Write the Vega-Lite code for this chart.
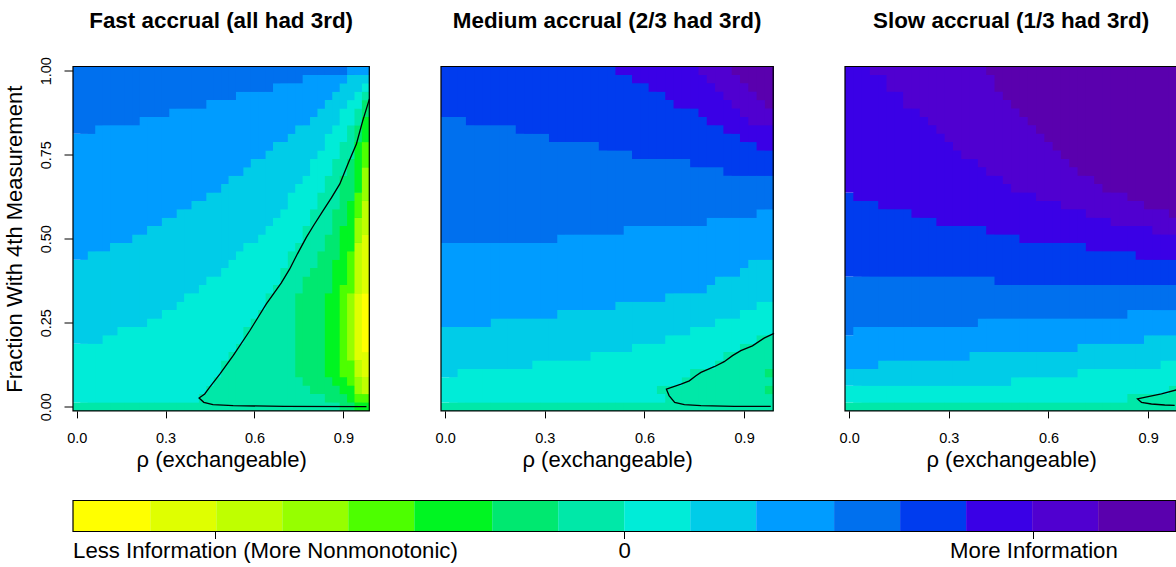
{
"$schema": "https://vega.github.io/schema/vega-lite/v6.json",
"padding": {"left": 3, "top": 9.5, "right": 0, "bottom": 0},
"config": {"font": "Liberation Sans", "view": {"stroke": null},
  "axis": {"labelColor": "black", "titleColor": "black", "tickColor": "black", "titleFontWeight": "normal", "grid": false, "domain": false},
  "title": {"color": "black", "fontSize": 22.4, "fontWeight": "bold"}},
"datasets": {
"cells": [
{"p":"A","r":0,"f":[0,0.025,0.2,0.45,0.825],"h":[0.025,0.2,0.45,0.825,1.025],"l":[8,9,10,11,12]},
{"p":"A","r":0.025,"f":[0,0.025,0.2,0.45,0.825],"h":[0.025,0.2,0.45,0.825,1.025],"l":[8,9,10,11,12]},
{"p":"A","r":0.05,"f":[0,0.025,0.2,0.475,0.825],"h":[0.025,0.2,0.475,0.825,1.025],"l":[8,9,10,11,12]},
{"p":"A","r":0.075,"f":[0,0.025,0.2,0.475,0.85],"h":[0.025,0.2,0.475,0.85,1.025],"l":[8,9,10,11,12]},
{"p":"A","r":0.1,"f":[0,0.025,0.225,0.475,0.85],"h":[0.025,0.225,0.475,0.85,1.025],"l":[8,9,10,11,12]},
{"p":"A","r":0.125,"f":[0,0.025,0.225,0.5,0.85],"h":[0.025,0.225,0.5,0.85,1.025],"l":[8,9,10,11,12]},
{"p":"A","r":0.15,"f":[0,0.025,0.25,0.5,0.85],"h":[0.025,0.25,0.5,0.85,1.025],"l":[8,9,10,11,12]},
{"p":"A","r":0.175,"f":[0,0.025,0.25,0.5,0.85],"h":[0.025,0.25,0.5,0.85,1.025],"l":[8,9,10,11,12]},
{"p":"A","r":0.2,"f":[0,0.025,0.25,0.525,0.85],"h":[0.025,0.25,0.525,0.85,1.025],"l":[8,9,10,11,12]},
{"p":"A","r":0.225,"f":[0,0.025,0.25,0.525,0.875],"h":[0.025,0.25,0.525,0.875,1.025],"l":[8,9,10,11,12]},
{"p":"A","r":0.25,"f":[0,0.025,0.275,0.55,0.875],"h":[0.025,0.275,0.55,0.875,1.025],"l":[8,9,10,11,12]},
{"p":"A","r":0.275,"f":[0,0.025,0.275,0.55,0.875],"h":[0.025,0.275,0.55,0.875,1.025],"l":[8,9,10,11,12]},
{"p":"A","r":0.3,"f":[0,0.025,0.3,0.575,0.875],"h":[0.025,0.3,0.575,0.875,1.025],"l":[8,9,10,11,12]},
{"p":"A","r":0.325,"f":[0,0.025,0.3,0.575,0.9],"h":[0.025,0.3,0.575,0.9,1.025],"l":[8,9,10,11,12]},
{"p":"A","r":0.35,"f":[0,0.025,0.325,0.6,0.9],"h":[0.025,0.325,0.6,0.9,1.025],"l":[8,9,10,11,12]},
{"p":"A","r":0.375,"f":[0,0.025,0.35,0.6,0.9],"h":[0.025,0.35,0.6,0.9,1.025],"l":[8,9,10,11,12]},
{"p":"A","r":0.4,"f":[0,0.025,0.35,0.625,0.9],"h":[0.025,0.35,0.625,0.9,1.025],"l":[8,9,10,11,12]},
{"p":"A","r":0.425,"f":[0,0.05,0.375,0.625,0.9],"h":[0.05,0.375,0.625,0.9,1.025],"l":[8,9,10,11,12]},
{"p":"A","r":0.45,"f":[0,0.075,0.4,0.65,0.925],"h":[0.075,0.4,0.65,0.925,1.025],"l":[8,9,10,11,12]},
{"p":"A","r":0.475,"f":[0,0.1,0.4,0.65,0.925],"h":[0.1,0.4,0.65,0.925,1.025],"l":[8,9,10,11,12]},
{"p":"A","r":0.5,"f":[0,0.15,0.425,0.675,0.925],"h":[0.15,0.425,0.675,0.925,1.025],"l":[8,9,10,11,12]},
{"p":"A","r":0.525,"f":[0,0.175,0.45,0.7,0.925],"h":[0.175,0.45,0.7,0.925,1.025],"l":[8,9,10,11,12]},
{"p":"A","r":0.55,"f":[0,0.2,0.475,0.7,0.95],"h":[0.2,0.475,0.7,0.95,1.025],"l":[8,9,10,11,12]},
{"p":"A","r":0.575,"f":[0,0.25,0.5,0.725,0.95],"h":[0.25,0.5,0.725,0.95,1.025],"l":[8,9,10,11,12]},
{"p":"A","r":0.6,"f":[0,0.275,0.5,0.75,0.95],"h":[0.275,0.5,0.75,0.95,1.025],"l":[8,9,10,11,12]},
{"p":"A","r":0.625,"f":[0,0.3,0.525,0.75,0.95],"h":[0.3,0.525,0.75,0.95,1.025],"l":[8,9,10,11,12]},
{"p":"A","r":0.65,"f":[0,0.35,0.55,0.775,0.95],"h":[0.35,0.55,0.775,0.95,1.025],"l":[8,9,10,11,12]},
{"p":"A","r":0.675,"f":[0,0.375,0.575,0.8,0.975],"h":[0.375,0.575,0.8,0.975,1.025],"l":[8,9,10,11,12]},
{"p":"A","r":0.7,"f":[0,0.425,0.6,0.8,0.975],"h":[0.425,0.6,0.8,0.975,1.025],"l":[8,9,10,11,12]},
{"p":"A","r":0.725,"f":[0,0.475,0.65,0.825,0.975],"h":[0.475,0.65,0.825,0.975,1.025],"l":[8,9,10,11,12]},
{"p":"A","r":0.75,"f":[0,0.1,0.35,0.5,0.675,0.85,0.975],"h":[0.1,0.35,0.5,0.675,0.85,0.975,1.025],"l":[8,7,8,9,10,11,12]},
{"p":"A","r":0.775,"f":[0,0.075,0.4,0.55,0.7,0.85,1],"h":[0.075,0.4,0.55,0.7,0.85,1,1.025],"l":[8,7,8,9,10,11,12]},
{"p":"A","r":0.8,"f":[0,0.05,0.425,0.6,0.75,0.875,1],"h":[0.05,0.425,0.6,0.75,0.875,1,1.025],"l":[8,7,8,9,10,11,12]},
{"p":"A","r":0.825,"f":[0,0.05,0.475,0.65,0.775,0.9,1],"h":[0.05,0.475,0.65,0.775,0.9,1,1.025],"l":[8,7,8,9,10,11,12]},
{"p":"A","r":0.85,"f":[0,0.025,0.1,0.35,0.525,0.7,0.825,0.925,1],"h":[0.025,0.1,0.35,0.525,0.7,0.825,0.925,1,1.025],"l":[8,7,6,7,8,9,10,11,12]},
{"p":"A","r":0.875,"f":[0,0.025,0.075,0.45,0.6,0.75,0.85,0.95,1],"h":[0.025,0.075,0.45,0.6,0.75,0.85,0.95,1,1.025],"l":[8,7,6,7,8,9,10,11,12]},
{"p":"A","r":0.9,"f":[0,0.05,0.1,0.375,0.55,0.7,0.8,0.9,0.975,1],"h":[0.05,0.1,0.375,0.55,0.7,0.8,0.9,0.975,1,1.025],"l":[7,6,5,6,7,8,9,10,11,12]},
{"p":"A","r":0.925,"f":[0,0.025,0.075,0.15,0.35,0.475,0.625,0.75,0.85,0.925,1],"h":[0.025,0.075,0.15,0.35,0.475,0.625,0.75,0.85,0.925,1,1.025],"l":[7,6,5,4,5,6,7,8,9,10,11]},
{"p":"A","r":0.95,"f":[0,0.025,0.05,0.1,0.15,0.35,0.5,0.575,0.65,0.8,0.85,0.9,0.95,1],"h":[0.025,0.05,0.1,0.15,0.35,0.5,0.575,0.65,0.8,0.85,0.9,0.95,1,1.025],"l":[6,5,4,3,2,3,4,5,6,7,8,9,10,11]},
{"p":"A","r":0.975,"f":[0,0.025,0.05,0.1,0.175,0.35,0.525,0.625,0.725,0.8,0.875,0.925,0.95,0.975,1],"h":[0.025,0.05,0.1,0.175,0.35,0.525,0.625,0.725,0.8,0.875,0.925,0.95,0.975,1,1.025],"l":[6,5,3,2,1,2,3,4,5,6,7,8,9,10,11]},
{"p":"B","r":0,"f":[0,0.025,0.1,0.25,0.5,0.875],"h":[0.025,0.1,0.25,0.5,0.875,1.025],"l":[8,9,10,11,12,13]},
{"p":"B","r":0.025,"f":[0,0.025,0.1,0.25,0.5,0.875],"h":[0.025,0.1,0.25,0.5,0.875,1.025],"l":[8,9,10,11,12,13]},
{"p":"B","r":0.05,"f":[0,0.025,0.125,0.25,0.5,0.875],"h":[0.025,0.125,0.25,0.5,0.875,1.025],"l":[8,9,10,11,12,13]},
{"p":"B","r":0.075,"f":[0,0.025,0.125,0.25,0.5,0.85],"h":[0.025,0.125,0.25,0.5,0.85,1.025],"l":[8,9,10,11,12,13]},
{"p":"B","r":0.1,"f":[0,0.025,0.125,0.25,0.5,0.85],"h":[0.025,0.125,0.25,0.5,0.85,1.025],"l":[8,9,10,11,12,13]},
{"p":"B","r":0.125,"f":[0,0.025,0.125,0.25,0.5,0.85],"h":[0.025,0.125,0.25,0.5,0.85,1.025],"l":[8,9,10,11,12,13]},
{"p":"B","r":0.15,"f":[0,0.025,0.125,0.275,0.5,0.85],"h":[0.025,0.125,0.275,0.5,0.85,1.025],"l":[8,9,10,11,12,13]},
{"p":"B","r":0.175,"f":[0,0.025,0.125,0.275,0.5,0.85],"h":[0.025,0.125,0.275,0.5,0.85,1.025],"l":[8,9,10,11,12,13]},
{"p":"B","r":0.2,"f":[0,0.025,0.125,0.275,0.5,0.85],"h":[0.025,0.125,0.275,0.5,0.85,1.025],"l":[8,9,10,11,12,13]},
{"p":"B","r":0.225,"f":[0,0.025,0.125,0.275,0.5,0.825],"h":[0.025,0.125,0.275,0.5,0.825,1.025],"l":[8,9,10,11,12,13]},
{"p":"B","r":0.25,"f":[0,0.025,0.125,0.275,0.5,0.825],"h":[0.025,0.125,0.275,0.5,0.825,1.025],"l":[8,9,10,11,12,13]},
{"p":"B","r":0.275,"f":[0,0.025,0.15,0.275,0.5,0.825],"h":[0.025,0.15,0.275,0.5,0.825,1.025],"l":[8,9,10,11,12,13]},
{"p":"B","r":0.3,"f":[0,0.025,0.15,0.275,0.5,0.825],"h":[0.025,0.15,0.275,0.5,0.825,1.025],"l":[8,9,10,11,12,13]},
{"p":"B","r":0.325,"f":[0,0.025,0.15,0.275,0.5,0.8],"h":[0.025,0.15,0.275,0.5,0.8,1.025],"l":[8,9,10,11,12,13]},
{"p":"B","r":0.35,"f":[0,0.025,0.15,0.3,0.525,0.8],"h":[0.025,0.15,0.3,0.525,0.8,1.025],"l":[8,9,10,11,12,13]},
{"p":"B","r":0.375,"f":[0,0.025,0.15,0.3,0.525,0.8],"h":[0.025,0.15,0.3,0.525,0.8,1.025],"l":[8,9,10,11,12,13]},
{"p":"B","r":0.4,"f":[0,0.025,0.15,0.3,0.525,0.8],"h":[0.025,0.15,0.3,0.525,0.8,1.025],"l":[8,9,10,11,12,13]},
{"p":"B","r":0.425,"f":[0,0.025,0.15,0.3,0.525,0.8],"h":[0.025,0.15,0.3,0.525,0.8,1.025],"l":[8,9,10,11,12,13]},
{"p":"B","r":0.45,"f":[0,0.025,0.175,0.3,0.525,0.8],"h":[0.025,0.175,0.3,0.525,0.8,1.025],"l":[8,9,10,11,12,13]},
{"p":"B","r":0.475,"f":[0,0.025,0.175,0.3,0.525,0.775],"h":[0.025,0.175,0.3,0.525,0.775,1.025],"l":[8,9,10,11,12,13]},
{"p":"B","r":0.5,"f":[0,0.025,0.175,0.3,0.525,0.775],"h":[0.025,0.175,0.3,0.525,0.775,1.025],"l":[8,9,10,11,12,13]},
{"p":"B","r":0.525,"f":[0,0.025,0.175,0.325,0.525,0.775,1],"h":[0.025,0.175,0.325,0.525,0.775,1,1.025],"l":[8,9,10,11,12,13,14]},
{"p":"B","r":0.55,"f":[0,0.025,0.175,0.325,0.55,0.775,1],"h":[0.025,0.175,0.325,0.55,0.775,1,1.025],"l":[8,9,10,11,12,13,14]},
{"p":"B","r":0.575,"f":[0,0.025,0.2,0.325,0.55,0.75,0.975],"h":[0.025,0.2,0.325,0.55,0.75,0.975,1.025],"l":[8,9,10,11,12,13,14]},
{"p":"B","r":0.6,"f":[0,0.025,0.2,0.325,0.55,0.75,0.975],"h":[0.025,0.2,0.325,0.55,0.75,0.975,1.025],"l":[8,9,10,11,12,13,14]},
{"p":"B","r":0.625,"f":[0,0.025,0.2,0.325,0.55,0.75,0.95],"h":[0.025,0.2,0.325,0.55,0.75,0.95,1.025],"l":[8,9,10,11,12,13,14]},
{"p":"B","r":0.65,"f":[0,0.025,0.05,0.075,0.2,0.325,0.55,0.75,0.95],"h":[0.025,0.05,0.075,0.2,0.325,0.55,0.75,0.95,1.025],"l":[8,9,8,9,10,11,12,13,14]},
{"p":"B","r":0.675,"f":[0,0.075,0.225,0.35,0.55,0.75,0.925],"h":[0.075,0.225,0.35,0.55,0.75,0.925,1.025],"l":[8,9,10,11,12,13,14]},
{"p":"B","r":0.7,"f":[0,0.075,0.225,0.35,0.55,0.75,0.9],"h":[0.075,0.225,0.35,0.55,0.75,0.9,1.025],"l":[8,9,10,11,12,13,14]},
{"p":"B","r":0.725,"f":[0,0.1,0.225,0.35,0.55,0.75,0.9],"h":[0.1,0.225,0.35,0.55,0.75,0.9,1.025],"l":[8,9,10,11,12,13,14]},
{"p":"B","r":0.75,"f":[0,0.125,0.25,0.35,0.55,0.725,0.9],"h":[0.125,0.25,0.35,0.55,0.725,0.9,1.025],"l":[8,9,10,11,12,13,14]},
{"p":"B","r":0.775,"f":[0,0.125,0.25,0.35,0.55,0.725,0.875,1],"h":[0.125,0.25,0.35,0.55,0.725,0.875,1,1.025],"l":[8,9,10,11,12,13,14,15]},
{"p":"B","r":0.8,"f":[0,0.125,0.25,0.375,0.575,0.725,0.85,0.975],"h":[0.125,0.25,0.375,0.575,0.725,0.85,0.975,1.025],"l":[8,9,10,11,12,13,14,15]},
{"p":"B","r":0.825,"f":[0,0.15,0.275,0.4,0.575,0.725,0.85,0.95],"h":[0.15,0.275,0.4,0.575,0.725,0.85,0.95,1.025],"l":[8,9,10,11,12,13,14,15]},
{"p":"B","r":0.85,"f":[0,0.175,0.275,0.4,0.575,0.7,0.825,0.925],"h":[0.175,0.275,0.4,0.575,0.7,0.825,0.925,1.025],"l":[8,9,10,11,12,13,14,15]},
{"p":"B","r":0.875,"f":[0,0.175,0.275,0.4,0.575,0.7,0.825,0.9,1],"h":[0.175,0.275,0.4,0.575,0.7,0.825,0.9,1,1.025],"l":[8,9,10,11,12,13,14,15,16]},
{"p":"B","r":0.9,"f":[0,0.2,0.3,0.425,0.575,0.7,0.8,0.875,0.975],"h":[0.2,0.3,0.425,0.575,0.7,0.8,0.875,0.975,1.025],"l":[8,9,10,11,12,13,14,15,16]},
{"p":"B","r":0.925,"f":[0,0.2,0.3,0.45,0.575,0.7,0.8,0.85,0.95],"h":[0.2,0.3,0.45,0.575,0.7,0.8,0.85,0.95,1.025],"l":[8,9,10,11,12,13,14,15,16]},
{"p":"B","r":0.95,"f":[0,0.225,0.325,0.45,0.6,0.7,0.775,0.85,0.925],"h":[0.225,0.325,0.45,0.6,0.7,0.775,0.85,0.925,1.025],"l":[8,9,10,11,12,13,14,15,16]},
{"p":"B","r":0.975,"f":[0,0.05,0.075,0.1,0.125,0.225,0.325,0.45,0.6,0.7,0.775,0.85,0.9],"h":[0.05,0.075,0.1,0.125,0.225,0.325,0.45,0.6,0.7,0.775,0.85,0.9,1.025],"l":[8,7,8,7,8,9,10,11,12,13,14,15,16]},
{"p":"C","r":0,"f":[0,0.025,0.075,0.125,0.225,0.4,0.65],"h":[0.025,0.075,0.125,0.225,0.4,0.65,1.025],"l":[8,9,10,11,12,13,14]},
{"p":"C","r":0.025,"f":[0,0.025,0.075,0.125,0.25,0.4,0.625],"h":[0.025,0.075,0.125,0.25,0.4,0.625,1.025],"l":[8,9,10,11,12,13,14]},
{"p":"C","r":0.05,"f":[0,0.025,0.075,0.125,0.25,0.4,0.625],"h":[0.025,0.075,0.125,0.25,0.4,0.625,1.025],"l":[8,9,10,11,12,13,14]},
{"p":"C","r":0.075,"f":[0,0.025,0.075,0.125,0.25,0.4,0.625,1],"h":[0.025,0.075,0.125,0.25,0.4,0.625,1,1.025],"l":[8,9,10,11,12,13,14,15]},
{"p":"C","r":0.1,"f":[0,0.025,0.075,0.15,0.25,0.4,0.6,1],"h":[0.025,0.075,0.15,0.25,0.4,0.6,1,1.025],"l":[8,9,10,11,12,13,14,15]},
{"p":"C","r":0.125,"f":[0,0.025,0.075,0.15,0.25,0.4,0.6,0.95],"h":[0.025,0.075,0.15,0.25,0.4,0.6,0.95,1.025],"l":[8,9,10,11,12,13,14,15]},
{"p":"C","r":0.15,"f":[0,0.025,0.075,0.15,0.25,0.4,0.6,0.95],"h":[0.025,0.075,0.15,0.25,0.4,0.6,0.95,1.025],"l":[8,9,10,11,12,13,14,15]},
{"p":"C","r":0.175,"f":[0,0.025,0.075,0.15,0.25,0.4,0.6,0.9],"h":[0.025,0.075,0.15,0.25,0.4,0.6,0.9,1.025],"l":[8,9,10,11,12,13,14,15]},
{"p":"C","r":0.2,"f":[0,0.025,0.075,0.15,0.25,0.4,0.575,0.9],"h":[0.025,0.075,0.15,0.25,0.4,0.575,0.9,1.025],"l":[8,9,10,11,12,13,14,15]},
{"p":"C","r":0.225,"f":[0,0.025,0.075,0.15,0.25,0.4,0.575,0.875],"h":[0.025,0.075,0.15,0.25,0.4,0.575,0.875,1.025],"l":[8,9,10,11,12,13,14,15]},
{"p":"C","r":0.25,"f":[0,0.025,0.075,0.15,0.25,0.4,0.575,0.85],"h":[0.025,0.075,0.15,0.25,0.4,0.575,0.85,1.025],"l":[8,9,10,11,12,13,14,15]},
{"p":"C","r":0.275,"f":[0,0.025,0.075,0.15,0.25,0.4,0.55,0.825],"h":[0.025,0.075,0.15,0.25,0.4,0.55,0.825,1.025],"l":[8,9,10,11,12,13,14,15]},
{"p":"C","r":0.3,"f":[0,0.025,0.075,0.15,0.25,0.4,0.55,0.8],"h":[0.025,0.075,0.15,0.25,0.4,0.55,0.8,1.025],"l":[8,9,10,11,12,13,14,15]},
{"p":"C","r":0.325,"f":[0,0.025,0.075,0.15,0.25,0.4,0.55,0.775],"h":[0.025,0.075,0.15,0.25,0.4,0.55,0.775,1.025],"l":[8,9,10,11,12,13,14,15]},
{"p":"C","r":0.35,"f":[0,0.025,0.075,0.15,0.25,0.4,0.55,0.75],"h":[0.025,0.075,0.15,0.25,0.4,0.55,0.75,1.025],"l":[8,9,10,11,12,13,14,15]},
{"p":"C","r":0.375,"f":[0,0.025,0.075,0.175,0.25,0.4,0.55,0.75],"h":[0.025,0.075,0.175,0.25,0.4,0.55,0.75,1.025],"l":[8,9,10,11,12,13,14,15]},
{"p":"C","r":0.4,"f":[0,0.025,0.075,0.175,0.275,0.4,0.55,0.725],"h":[0.025,0.075,0.175,0.275,0.4,0.55,0.725,1.025],"l":[8,9,10,11,12,13,14,15]},
{"p":"C","r":0.425,"f":[0,0.025,0.075,0.175,0.275,0.4,0.525,0.7,1],"h":[0.025,0.075,0.175,0.275,0.4,0.525,0.7,1,1.025],"l":[8,9,10,11,12,13,14,15,16]},
{"p":"C","r":0.45,"f":[0,0.025,0.075,0.175,0.275,0.375,0.525,0.7,0.95],"h":[0.025,0.075,0.175,0.275,0.375,0.525,0.7,0.95,1.025],"l":[8,9,10,11,12,13,14,15,16]},
{"p":"C","r":0.475,"f":[0,0.025,0.075,0.175,0.275,0.375,0.525,0.675,0.925],"h":[0.025,0.075,0.175,0.275,0.375,0.525,0.675,0.925,1.025],"l":[8,9,10,11,12,13,14,15,16]},
{"p":"C","r":0.5,"f":[0,0.025,0.1,0.175,0.275,0.375,0.525,0.65,0.9],"h":[0.025,0.1,0.175,0.275,0.375,0.525,0.65,0.9,1.025],"l":[8,9,10,11,12,13,14,15,16]},
{"p":"C","r":0.525,"f":[0,0.025,0.1,0.175,0.275,0.375,0.5,0.65,0.875],"h":[0.025,0.1,0.175,0.275,0.375,0.5,0.65,0.875,1.025],"l":[8,9,10,11,12,13,14,15,16]},
{"p":"C","r":0.55,"f":[0,0.025,0.1,0.175,0.275,0.375,0.5,0.65,0.85],"h":[0.025,0.1,0.175,0.275,0.375,0.5,0.65,0.85,1.025],"l":[8,9,10,11,12,13,14,15,16]},
{"p":"C","r":0.575,"f":[0,0.025,0.1,0.175,0.275,0.375,0.5,0.625,0.825],"h":[0.025,0.1,0.175,0.275,0.375,0.5,0.625,0.825,1.025],"l":[8,9,10,11,12,13,14,15,16]},
{"p":"C","r":0.6,"f":[0,0.025,0.1,0.175,0.275,0.375,0.5,0.625,0.8],"h":[0.025,0.1,0.175,0.275,0.375,0.5,0.625,0.8,1.025],"l":[8,9,10,11,12,13,14,15,16]},
{"p":"C","r":0.625,"f":[0,0.025,0.1,0.175,0.275,0.375,0.5,0.625,0.775],"h":[0.025,0.1,0.175,0.275,0.375,0.5,0.625,0.775,1.025],"l":[8,9,10,11,12,13,14,15,16]},
{"p":"C","r":0.65,"f":[0,0.025,0.1,0.175,0.275,0.375,0.5,0.6,0.75],"h":[0.025,0.1,0.175,0.275,0.375,0.5,0.6,0.75,1.025],"l":[8,9,10,11,12,13,14,15,16]},
{"p":"C","r":0.675,"f":[0,0.025,0.1,0.175,0.275,0.375,0.5,0.6,0.725],"h":[0.025,0.1,0.175,0.275,0.375,0.5,0.6,0.725,1.025],"l":[8,9,10,11,12,13,14,15,16]},
{"p":"C","r":0.7,"f":[0,0.025,0.125,0.2,0.275,0.375,0.5,0.6,0.7],"h":[0.025,0.125,0.2,0.275,0.375,0.5,0.6,0.7,1.025],"l":[8,9,10,11,12,13,14,15,16]},
{"p":"C","r":0.725,"f":[0,0.025,0.125,0.2,0.275,0.375,0.475,0.575,0.7],"h":[0.025,0.125,0.2,0.275,0.375,0.475,0.575,0.7,1.025],"l":[8,9,10,11,12,13,14,15,16]},
{"p":"C","r":0.75,"f":[0,0.025,0.125,0.2,0.275,0.375,0.475,0.575,0.675],"h":[0.025,0.125,0.2,0.275,0.375,0.475,0.575,0.675,1.025],"l":[8,9,10,11,12,13,14,15,16]},
{"p":"C","r":0.775,"f":[0,0.025,0.125,0.2,0.275,0.375,0.475,0.575,0.65],"h":[0.025,0.125,0.2,0.275,0.375,0.475,0.575,0.65,1.025],"l":[8,9,10,11,12,13,14,15,16]},
{"p":"C","r":0.8,"f":[0,0.025,0.125,0.2,0.275,0.375,0.475,0.55,0.65],"h":[0.025,0.125,0.2,0.275,0.375,0.475,0.55,0.65,1.025],"l":[8,9,10,11,12,13,14,15,16]},
{"p":"C","r":0.825,"f":[0,0.025,0.125,0.2,0.275,0.375,0.475,0.55,0.65],"h":[0.025,0.125,0.2,0.275,0.375,0.475,0.55,0.65,1.025],"l":[8,9,10,11,12,13,14,15,16]},
{"p":"C","r":0.85,"f":[0,0.05,0.125,0.2,0.3,0.375,0.475,0.55,0.625],"h":[0.05,0.125,0.2,0.3,0.375,0.475,0.55,0.625,1.025],"l":[8,9,10,11,12,13,14,15,16]},
{"p":"C","r":0.875,"f":[0,0.05,0.125,0.2,0.3,0.375,0.45,0.55,0.625],"h":[0.05,0.125,0.2,0.3,0.375,0.45,0.55,0.625,1.025],"l":[8,9,10,11,12,13,14,15,16]},
{"p":"C","r":0.9,"f":[0,0.05,0.125,0.225,0.3,0.375,0.45,0.55,0.6],"h":[0.05,0.125,0.225,0.3,0.375,0.45,0.55,0.6,1.025],"l":[8,9,10,11,12,13,14,15,16]},
{"p":"C","r":0.925,"f":[0,0.05,0.125,0.225,0.3,0.375,0.45,0.525,0.6],"h":[0.05,0.125,0.225,0.3,0.375,0.45,0.525,0.6,1.025],"l":[8,9,10,11,12,13,14,15,16]},
{"p":"C","r":0.95,"f":[0,0.05,0.15,0.225,0.3,0.375,0.45,0.525,0.6],"h":[0.05,0.15,0.225,0.3,0.375,0.45,0.525,0.6,1.025],"l":[8,9,10,11,12,13,14,15,16]},
{"p":"C","r":0.975,"f":[0,0.075,0.15,0.225,0.3,0.375,0.45,0.525,0.575],"h":[0.075,0.15,0.225,0.3,0.375,0.45,0.525,0.575,1.025],"l":[8,9,10,11,12,13,14,15,16]}
],
"cont": [
{"p":"A","o":1,"rho":0.988,"frac":0.916},{"p":"A","o":2,"rho":0.965,"frac":0.85},{"p":"A","o":3,"rho":0.944,"frac":0.782},{"p":"A","o":4,"rho":0.918,"frac":0.728},{"p":"A","o":5,"rho":0.888,"frac":0.663},{"p":"A","o":6,"rho":0.86,"frac":0.622},{"p":"A","o":7,"rho":0.831,"frac":0.583},{"p":"A","o":8,"rho":0.8,"frac":0.54},{"p":"A","o":9,"rho":0.775,"frac":0.504},{"p":"A","o":10,"rho":0.745,"frac":0.455},{"p":"A","o":11,"rho":0.719,"frac":0.41},{"p":"A","o":12,"rho":0.69,"frac":0.368},{"p":"A","o":13,"rho":0.64,"frac":0.306},{"p":"A","o":14,"rho":0.584,"frac":0.226},{"p":"A","o":15,"rho":0.528,"frac":0.152},{"p":"A","o":16,"rho":0.483,"frac":0.097},{"p":"A","o":17,"rho":0.449,"frac":0.058},{"p":"A","o":18,"rho":0.432,"frac":0.038},{"p":"A","o":19,"rho":0.413,"frac":0.026},{"p":"A","o":20,"rho":0.429,"frac":0.013},{"p":"A","o":21,"rho":0.46,"frac":0.006},{"p":"A","o":22,"rho":0.528,"frac":0.003},{"p":"A","o":23,"rho":0.7,"frac":0.001},{"p":"A","o":24,"rho":0.978,"frac":0.0},
{"p":"B","o":1,"rho":0.99,"frac":0.218},{"p":"B","o":2,"rho":0.96,"frac":0.204},{"p":"B","o":3,"rho":0.925,"frac":0.181},{"p":"B","o":4,"rho":0.89,"frac":0.167},{"p":"B","o":5,"rho":0.865,"frac":0.152},{"p":"B","o":6,"rho":0.84,"frac":0.134},{"p":"B","o":7,"rho":0.81,"frac":0.119},{"p":"B","o":8,"rho":0.77,"frac":0.102},{"p":"B","o":9,"rho":0.755,"frac":0.092},{"p":"B","o":10,"rho":0.735,"frac":0.077},{"p":"B","o":11,"rho":0.71,"frac":0.067},{"p":"B","o":12,"rho":0.666,"frac":0.052},{"p":"B","o":13,"rho":0.674,"frac":0.033},{"p":"B","o":14,"rho":0.691,"frac":0.013},{"p":"B","o":15,"rho":0.72,"frac":0.006},{"p":"B","o":16,"rho":0.77,"frac":0.003},{"p":"B","o":17,"rho":0.87,"frac":0.001},{"p":"B","o":18,"rho":0.98,"frac":0.001},
{"p":"C","o":1,"rho":0.985,"frac":0.05},{"p":"C","o":2,"rho":0.94,"frac":0.038},{"p":"C","o":3,"rho":0.9,"frac":0.03},{"p":"C","o":4,"rho":0.868,"frac":0.023},{"p":"C","o":5,"rho":0.88,"frac":0.013},{"p":"C","o":6,"rho":0.91,"frac":0.008},{"p":"C","o":7,"rho":0.95,"frac":0.005},{"p":"C","o":8,"rho":0.98,"frac":0.004}
],
"bar": [
{"lo":-8.35,"hi":-7.18,"l":1},{"lo":-7.18,"hi":-6.18,"l":2},{"lo":-6.18,"hi":-5.18,"l":3},{"lo":-5.18,"hi":-4.18,"l":4},
{"lo":-4.18,"hi":-3.18,"l":5},{"lo":-3.18,"hi":-2,"l":6},{"lo":-2,"hi":-1,"l":7},{"lo":-1,"hi":0,"l":8},
{"lo":0,"hi":1,"l":9},{"lo":1,"hi":2,"l":10},{"lo":2,"hi":3.18,"l":11},{"lo":3.18,"hi":4.18,"l":12},
{"lo":4.18,"hi":5.18,"l":13},{"lo":5.18,"hi":6.18,"l":14},{"lo":6.18,"hi":7.18,"l":15},{"lo":7.18,"hi":8.36,"l":16}
]
},
"spacing": 29,
"vconcat": [
{"hconcat": [
 {"width": 296.3, "height": 344.4,
  "title": {"text": "Fast accrual (all had 3rd)", "offset": 24},
  "layer": [
   {"data": {"name": "cells"}, "transform": [{"filter": "datum.p === 'A'"}, {"flatten": ["f", "h", "l"]}],
    "mark": {"type": "rect", "xOffset": -3.7, "x2Offset": 3.7, "yOffset": 4.2, "y2Offset": 4.2},
    "encoding": {
     "x": {"field": "r", "type": "quantitative", "scale": {"domain": [-0.0125, 0.9875], "nice": false, "zero": false},
       "axis": {"values": [0, 0.3, 0.6, 0.9], "format": ".1f", "title": "ρ (exchangeable)", "tickSize": 7, "labelFontSize": 14.5, "labelPadding": 14, "titleFontSize": 22, "titlePadding": 4}},
     "x2": {"datum": 0.975},
     "y": {"field": "f", "type": "quantitative", "scale": {"domain": [-0.0125, 1.0125], "nice": false, "zero": false},
       "axis": {"values": [0, 0.25, 0.5, 0.75, 1], "format": ".2f", "labelAngle": -90, "title": "Fraction With 4th Measurement", "tickSize": 9, "labelFontSize": 14.5, "labelPadding": 11, "titleFontSize": 22, "titlePadding": 12}},
     "y2": {"field": "h"},
     "color": {"field": "l", "type": "ordinal", "legend": null,
       "scale": {"domain": [1,2,3,4,5,6,7,8,9,10,11,12,13,14,15,16], "range": ["#FFFF00","#DFFF00","#BFFF00","#96FF00","#4DFF00","#00F522","#00E870","#00E8A8","#00ECD8","#00CCE8","#009CFF","#0070EE","#003CEE","#3A00E6","#5000D0","#5A00AE"]}}
    }},
   {"data": {"name": "cont"}, "transform": [{"filter": "datum.p === 'A'"}],
    "mark": {"type": "line", "color": "black", "strokeWidth": 1.3},
    "encoding": {"x": {"field": "rho", "type": "quantitative"}, "y": {"field": "frac", "type": "quantitative"}, "order": {"field": "o", "type": "quantitative"}}},
   {"data": {"values": [{}]}, "mark": {"type": "rect", "filled": false, "stroke": "black", "strokeWidth": 1.2},
    "encoding": {"x": {"datum": -0.0125}, "x2": {"datum": 0.9875}, "y": {"datum": -0.0125}, "y2": {"datum": 1.0125}}}
  ]},
 {"width": 332.2, "height": 344.4,
  "title": {"text": "Medium accrual (2/3 had 3rd)", "offset": 34},
  "layer": [
   {"data": {"name": "cells"}, "transform": [{"filter": "datum.p === 'B'"}, {"flatten": ["f", "h", "l"]}],
    "mark": {"type": "rect", "xOffset": -4.15, "x2Offset": 4.15, "yOffset": 4.2, "y2Offset": 4.2},
    "encoding": {
     "x": {"field": "r", "type": "quantitative", "scale": {"domain": [-0.0125, 0.9875], "nice": false, "zero": false},
       "axis": {"values": [0, 0.3, 0.6, 0.9], "format": ".1f", "title": "ρ (exchangeable)", "tickSize": 7, "labelFontSize": 14.5, "labelPadding": 14, "titleFontSize": 22, "titlePadding": 4}},
     "x2": {"datum": 0.975},
     "y": {"field": "f", "type": "quantitative", "scale": {"domain": [-0.0125, 1.0125], "nice": false, "zero": false}, "axis": null},
     "y2": {"field": "h"},
     "color": {"field": "l", "type": "ordinal", "legend": null,
       "scale": {"domain": [1,2,3,4,5,6,7,8,9,10,11,12,13,14,15,16], "range": ["#FFFF00","#DFFF00","#BFFF00","#96FF00","#4DFF00","#00F522","#00E870","#00E8A8","#00ECD8","#00CCE8","#009CFF","#0070EE","#003CEE","#3A00E6","#5000D0","#5A00AE"]}}
    }},
   {"data": {"name": "cont"}, "transform": [{"filter": "datum.p === 'B'"}],
    "mark": {"type": "line", "color": "black", "strokeWidth": 1.3},
    "encoding": {"x": {"field": "rho", "type": "quantitative"}, "y": {"field": "frac", "type": "quantitative"}, "order": {"field": "o", "type": "quantitative"}}},
   {"data": {"values": [{}]}, "mark": {"type": "rect", "filled": false, "stroke": "black", "strokeWidth": 1.2},
    "encoding": {"x": {"datum": -0.0125}, "x2": {"datum": 0.9875}, "y": {"datum": -0.0125}, "y2": {"datum": 1.0125}}}
  ]},
 {"width": 332.2, "height": 344.4,
  "title": {"text": "Slow accrual (1/3 had 3rd)", "offset": 34},
  "layer": [
   {"data": {"name": "cells"}, "transform": [{"filter": "datum.p === 'C'"}, {"flatten": ["f", "h", "l"]}],
    "mark": {"type": "rect", "xOffset": -4.15, "x2Offset": 4.15, "yOffset": 4.2, "y2Offset": 4.2},
    "encoding": {
     "x": {"field": "r", "type": "quantitative", "scale": {"domain": [-0.0125, 0.9875], "nice": false, "zero": false},
       "axis": {"values": [0, 0.3, 0.6, 0.9], "format": ".1f", "title": "ρ (exchangeable)", "tickSize": 7, "labelFontSize": 14.5, "labelPadding": 14, "titleFontSize": 22, "titlePadding": 4}},
     "x2": {"datum": 0.975},
     "y": {"field": "f", "type": "quantitative", "scale": {"domain": [-0.0125, 1.0125], "nice": false, "zero": false}, "axis": null},
     "y2": {"field": "h"},
     "color": {"field": "l", "type": "ordinal", "legend": null,
       "scale": {"domain": [1,2,3,4,5,6,7,8,9,10,11,12,13,14,15,16], "range": ["#FFFF00","#DFFF00","#BFFF00","#96FF00","#4DFF00","#00F522","#00E870","#00E8A8","#00ECD8","#00CCE8","#009CFF","#0070EE","#003CEE","#3A00E6","#5000D0","#5A00AE"]}}
    }},
   {"data": {"name": "cont"}, "transform": [{"filter": "datum.p === 'C'"}],
    "mark": {"type": "line", "color": "black", "strokeWidth": 1.3},
    "encoding": {"x": {"field": "rho", "type": "quantitative"}, "y": {"field": "frac", "type": "quantitative"}, "order": {"field": "o", "type": "quantitative"}}},
   {"data": {"values": [{}]}, "mark": {"type": "rect", "filled": false, "stroke": "black", "strokeWidth": 1.2},
    "encoding": {"x": {"datum": -0.0125}, "x2": {"datum": 0.9875}, "y": {"datum": -0.0125}, "y2": {"datum": 1.0125}}}
  ]}
 ], "spacing": 71, "bounds": "flush"},
{"width": 1103, "height": 31,
 "layer": [
  {"data": {"name": "bar"}, "mark": {"type": "rect"},
   "encoding": {
    "x": {"field": "lo", "type": "quantitative", "scale": {"domain": [-8.35, 8.36], "nice": false, "zero": false},
      "axis": {"values": [-6.2, 0, 6.2], "labelExpr": "datum.value < -1 ? 'Less Information (More Nonmonotonic)' : (datum.value > 1 ? 'More Information' : '0')", "labelLimit": 1000, "labelOffset": {"condition": {"test": "datum.value < -1", "value": 50}, "value": 0}, "title": null, "tickSize": 7, "labelFontSize": 22.2, "labelPadding": 1}},
    "x2": {"field": "hi"},
    "color": {"field": "l", "type": "ordinal", "legend": null,
       "scale": {"domain": [1,2,3,4,5,6,7,8,9,10,11,12,13,14,15,16], "range": ["#FFFF00","#DFFF00","#BFFF00","#96FF00","#4DFF00","#00F522","#00E870","#00E8A8","#00ECD8","#00CCE8","#009CFF","#0070EE","#003CEE","#3A00E6","#5000D0","#5A00AE"]}}
   }},
  {"data": {"values": [{}]}, "mark": {"type": "rect", "filled": false, "stroke": "black", "strokeWidth": 1.2},
   "encoding": {"x": {"datum": -8.35}, "x2": {"datum": 8.36}}}
 ]}
]
}
